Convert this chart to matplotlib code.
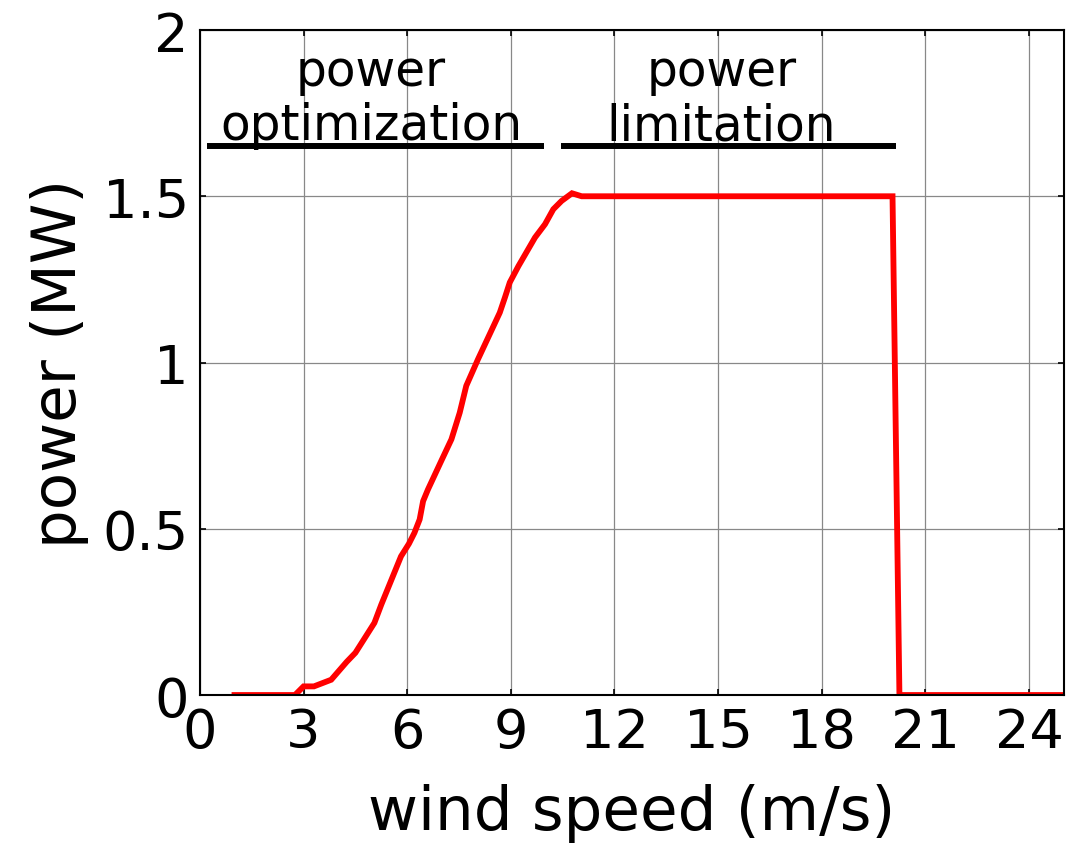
import matplotlib
matplotlib.use('Agg')
import matplotlib.pyplot as plt

# Power curve (wind speed in m/s, power in MW)
wind_speed = [1.0, 2.75, 3.0, 3.3, 3.8, 4.25, 4.5, 5.05, 5.25, 5.82, 6.05,
              6.21, 6.36, 6.46, 6.6, 6.99, 7.28, 7.52, 7.71, 8.05, 8.68,
              8.83, 8.97, 9.22, 9.7, 9.99, 10.23, 10.47, 10.77, 11.05,
              20.05, 20.25, 25.0]
power = [0.0, 0.0, 0.026, 0.026, 0.046, 0.10, 0.127, 0.217, 0.272, 0.417,
         0.455, 0.488, 0.528, 0.583, 0.618, 0.705, 0.769, 0.849, 0.93, 1.01,
         1.15, 1.196, 1.241, 1.29, 1.376, 1.416, 1.461, 1.486, 1.509, 1.5,
         1.5, 0.0, 0.0]

# Region markers: label, bar start, bar end, label centre
regions = ['power\noptimization', 'power\nlimitation']
region_start = [0.2, 10.45]
region_end = [9.95, 20.15]
region_center = [4.95, 15.1]
region_level = 1.652

x_ticks = [0, 3, 6, 9, 12, 15, 18, 21, 24]
y_ticks = [0, 0.5, 1, 1.5, 2]
y_ticklabels = ['0', '0.5', '1', '1.5', '2']

plt.rcParams['font.family'] = ['DejaVu Sans']

fig = plt.figure(figsize=(10.71, 8.45), dpi=100)
ax = fig.add_axes([0.1867, 0.1763, 0.8063, 0.787])

ax.plot(wind_speed, power, color='#ff0000', lw=4.2, solid_joinstyle='miter')

for name, x0, x1, xc in zip(regions, region_start, region_end, region_center):
    ax.plot([x0, x1], [region_level, region_level], color='black', lw=4.3,
            solid_capstyle='butt')
    ax.text(xc, region_level - 0.01, name, ha='center', va='bottom',
            fontsize=35, linespacing=1.15)

ax.set_xlim(0, 25)
ax.set_ylim(0, 2)
ax.set_xticks(x_ticks)
ax.set_yticks(y_ticks)
ax.set_yticklabels(y_ticklabels)
ax.grid(True, color='#888888', lw=0.9)
ax.set_axisbelow(True)
ax.tick_params(direction='in', length=4, width=1.2, top=True, right=True,
               labelsize=39, pad=8)
for s in ax.spines.values():
    s.set_linewidth(1.5)

ax.set_xlabel('wind speed (m/s)', fontsize=44, labelpad=18)
ax.set_ylabel('power (MW)', fontsize=44, labelpad=10)

fig.savefig('out.png', dpi=100)
